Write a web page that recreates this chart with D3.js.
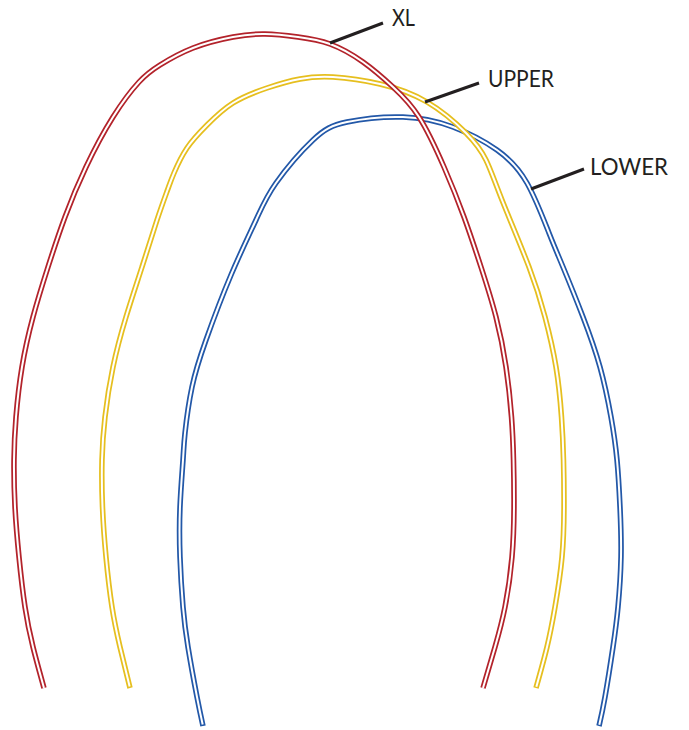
<!DOCTYPE html>
<html>
<head>
<meta charset="utf-8">
<script src="https://cdn.jsdelivr.net/npm/d3@7"></script>
<style>
  body { margin: 0; background: #fff; }
  svg { display: block; }
  .label { font-family: Lato, "Open Sans", sans-serif; fill: #231f20; }
</style>
</head>
<body>
<div id="chart"></div>
<script>
// ARCH DATA (drawing units)

var xl_points = [
  [44,688],[33,647],[25,607],[19,557],[15,507],[14,460],[16,417],[22,367],
  [33,317],[48,267],[65,217],[86,167],[113,117],[139,82],[160,65],[193,48],
  [233,37],[265,34],[298,37],[330,44],[363,62],[393,87],[419,117],[444,167],
  [464,217],[481,267],[496,317],[506,367],[511.5,417],[513.5,460],[514,507],
  [512,557],[505,607],[495,647],[483,688]
];

var upper_points = [
  [130,688],[120,647],[112,607],[106,557],[102.5,507],[102,460],[105,417],
  [113,367],[126,317],[142,267],[157,220],[167.5,190],[174,173],[187,148],
  [207,125],[233,103],[267,88],[300,79],[333,77],[380,84],[427,102],
  [466,133],[486,160],[502,200],[529,267],[545,317],[556,367],[561.5,417],
  [563.5,460],[564,507],[562,557],[555,607],[547,647],[536,688]
];

var lower_points = [
  [203,726],[197,697],[188,647],[183,607],[180,557],[180,507],[183,460],
  [185,433],[192,387],[206,340],[231,275],[256,220],[276,183],[313,140],
  [347,122],[403,117],[453,127],[497,150],[527,183],[549,233],[563,267],
  [583,317],[600,367],[611,417],[617,460],[620,507],[621,557],[618,607],
  [613,647],[605,697],[599,726]
];

var arch_names = ["XL", "UPPER", "LOWER"];
var arch_colors = ["#b3232b", "#e6bf1f", "#2358a8"];
var arch_closed = [false, true, true];

// leader line: from point on the wire to the label
var leader_from = [[330,43],[425,102],[531,189]];
var leader_to = [[383,23],[479,83],[584,169]];
var label_pos = [[392,26],[488,87],[590,175]];
var label_width = [23, 66, 78];

var width = 689;
var height = 730;
var line_width = 5.5;
var gap_width = 2;

var x = d3.scaleLinear().domain([0, 689]).range([0, width]);
var y = d3.scaleLinear().domain([0, 730]).range([0, height]);

var svg = d3.select("#chart").append("svg")
  .attr("width", width)
  .attr("height", height);

var line = d3.line()
  .x(function(d) { return x(d[0]); })
  .y(function(d) { return y(d[1]); })
  .curve(d3.curveNatural);

var arches = [xl_points, upper_points, lower_points];

// draw back to front so XL ends up on top like in the reference
for (var i = arches.length - 1; i >= 0; i--) {
  var g = svg.append("g").attr("class", "arch");
  g.append("path")
    .attr("d", line(arches[i]))
    .attr("fill", "none")
    .attr("stroke", arch_colors[i])
    .attr("stroke-width", line_width)
    .attr("stroke-linecap", "butt");
  var inner = g.append("path")
    .attr("d", line(arches[i]))
    .attr("fill", "none")
    .attr("stroke", "#fff")
    .attr("stroke-width", gap_width)
    .attr("stroke-linecap", "butt");
  if (arch_closed[i]) {
    // shorten the white core a bit so the wire ends look closed
    var len = inner.node().getTotalLength();
    inner.attr("stroke-dasharray", (len - 3) + " " + len)
      .attr("stroke-dashoffset", -1.5);
  }
}

// LABELS

for (var i = 0; i < arch_names.length; i++) {
  svg.append("line")
    .attr("x1", x(leader_from[i][0]))
    .attr("y1", y(leader_from[i][1]))
    .attr("x2", x(leader_to[i][0]))
    .attr("y2", y(leader_to[i][1]))
    .attr("stroke", "#231f20")
    .attr("stroke-width", 3);
  svg.append("text")
    .attr("class", "label")
    .attr("x", x(label_pos[i][0]))
    .attr("y", y(label_pos[i][1]))
    .attr("font-size", 24)
    .attr("textLength", label_width[i])
    .attr("lengthAdjust", "spacingAndGlyphs")
    .text(arch_names[i]);
}
</script>
</body>
</html>
